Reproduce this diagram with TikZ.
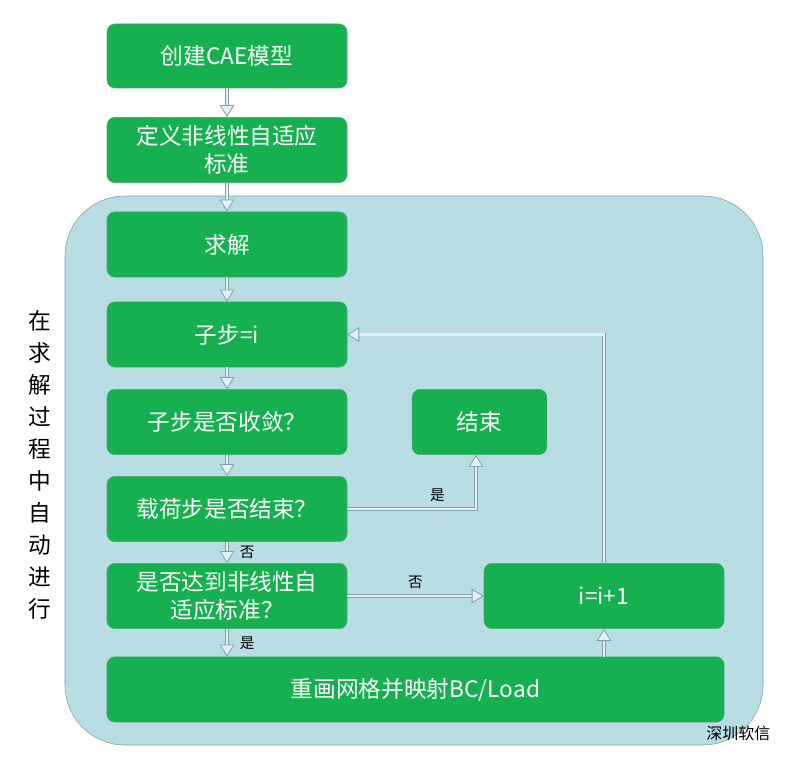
\documentclass[tikz,border=0pt]{standalone}
\usepackage{fontspec}
\setmainfont{Noto Sans CJK SC}
\usetikzlibrary{arrows.meta}
\definecolor{boxgreen}{RGB}{22,176,80}
\definecolor{boxline}{RGB}{70,170,110}
\definecolor{bgblue}{RGB}{184,221,227}
\definecolor{arrowline}{RGB}{130,160,168}
\tikzset{
  stepbox/.style={draw=boxline, fill=boxgreen, rounded corners=6pt, text=white,
    font=\fontsize{17}{21}\selectfont, align=center, inner sep=0pt},
  flow/.style={draw=arrowline, double=bgblue!40!white, double distance=1.6pt, line width=0.6pt,
    -{Triangle[open, length=9pt, width=11pt, fill=bgblue!40!white]}},
  lbl/.style={font=\fontsize{11}{13}\selectfont, text=black}
}
\begin{document}
\begin{tikzpicture}[x=0.75pt, y=-0.75pt]
\useasboundingbox (0,0) rectangle (797,767);
\fill[white] (0,0) rectangle (797,767);
% background region
\draw[fill=bgblue, draw=arrowline, rounded corners=45pt] (65,196) rectangle (763,745);
% boxes
\node[stepbox, minimum width=180pt, minimum height=48pt] (create) at (227,56) {创建CAE模型};
\node[stepbox, minimum width=180pt, minimum height=49pt] (define) at (227,150) {定义非线性自适应\\标准};
\node[stepbox, minimum width=180pt, minimum height=49pt] (solve) at (227,244.5) {求解};
\node[stepbox, minimum width=180pt, minimum height=49pt] (sub) at (227,334.5) {子步=i};
\node[stepbox, minimum width=180pt, minimum height=49pt] (conv) at (227,422) {子步是否收敛？};
\node[stepbox, minimum width=180pt, minimum height=49pt] (load) at (227,509) {载荷步是否结束？};
\node[stepbox, minimum width=180pt, minimum height=49pt] (crit) at (227,596) {是否达到非线性自\\适应标准？};
\node[stepbox, minimum width=101pt, minimum height=49pt] (stop) at (479.5,422) {结束};
\node[stepbox, minimum width=180pt, minimum height=49pt] (inc) at (604,596) {i=i+1};
\node[stepbox, minimum width=463pt, minimum height=49pt] (remesh) at (415.5,689.5) {重画网格并映射BC/Load};
% side text
\node[align=center, font=\fontsize{17}{24}\selectfont, text=black] (side) at (40,465)
  {在\\求\\解\\过\\程\\中\\自\\动\\进\\行};
\node[font=\fontsize{12}{14}\selectfont, text=black, anchor=east] (mark) at (775,733) {深圳软信};
% arrows
\draw[flow] (create) -- (define);
\draw[flow] (define) -- (solve);
\draw[flow] (solve) -- (sub);
\draw[flow] (sub) -- (conv);
\draw[flow] (conv) -- (load);
\draw[flow] (load) -- node[lbl, right, pos=0.5, xshift=6pt] (no1) {否} (crit);
\draw[flow] (crit.south) -- node[lbl, right, pos=0.5, xshift=6pt] (yes2) {是} (crit.south |- remesh.north);
\draw[flow] (load.east) -| node[lbl, above, pos=0.35, yshift=2pt] (yes1) {是} (stop.south -| 476,0);
\draw[flow] (crit) -- node[lbl, above, pos=0.5, yshift=2pt] (no2) {否} (inc);
\draw[flow] (inc.north) |- (sub.east);
\draw[flow] (remesh.north -| inc) -- (inc.south);
\end{tikzpicture}
\end{document}
